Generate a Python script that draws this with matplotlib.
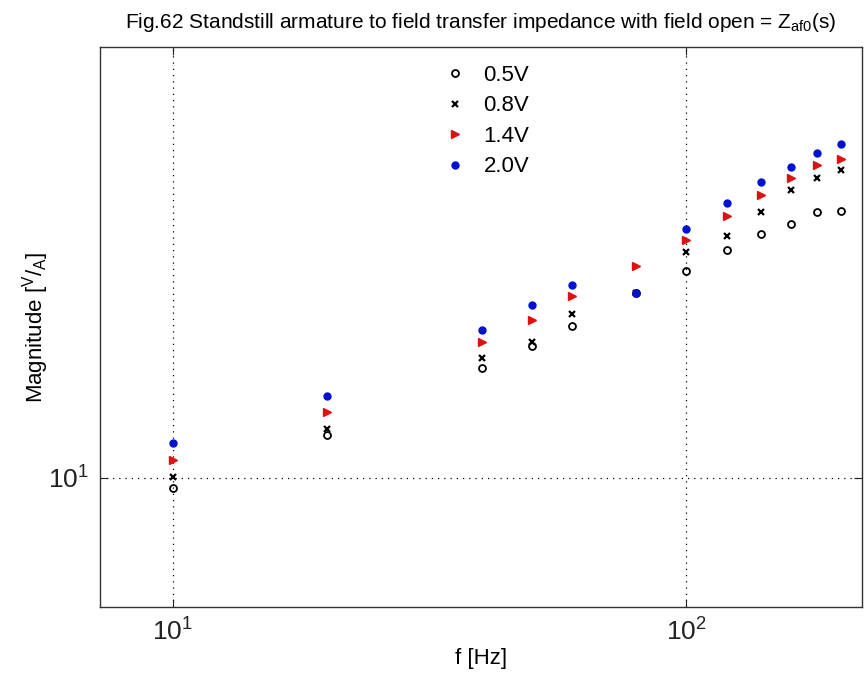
import matplotlib
matplotlib.use("Agg")
import matplotlib.pyplot as plt
from matplotlib.ticker import FixedLocator, NullLocator, LogFormatterMathtext

plt.rcParams['font.family'] = ['Liberation Sans', 'DejaVu Sans']
plt.rcParams['mathtext.fontset'] = 'custom'
plt.rcParams['mathtext.rm'] = 'Liberation Sans'
plt.rcParams['mathtext.it'] = 'Liberation Sans'

freq = [10, 20, 40, 50, 60, 80, 100, 120, 140, 160, 180, 200]
v05 = [9.61, 11.85, 15.45, 16.86, 18.25, 20.79, 22.69, 24.64, 26.26, 27.32, 28.64, 28.76]
v08 = [10.04, 12.14, 16.08, 17.13, 19.13, 20.79, 24.45, 26.05, 28.64, 31.25, 32.77, 33.82]
v14 = [10.74, 12.98, 17.13, 18.68, 20.54, 23.14, 25.64, 28.19, 30.64, 32.77, 34.49, 35.33]
v20 = [11.48, 13.83, 17.96, 19.83, 21.46, 20.79, 26.78, 29.69, 32.26, 34.22, 36.17, 37.49]
labels = ['0.5V', '0.8V', '1.4V', '2.0V']

fig = plt.figure(figsize=(8.64, 6.77), dpi=100)
ax = fig.add_axes([100/864, 70/677, 762/864, 560/677])

ax.plot(freq, v05, linestyle='none', marker='o', markersize=5, markerfacecolor='none',
        markeredgecolor='black', markeredgewidth=1.3, label=labels[0])
ax.plot(freq, v08, linestyle='none', marker='x', markersize=4.5, color='black',
        markeredgewidth=1.6, label=labels[1])
ax.plot(freq, v14, linestyle='none', marker='>', markersize=6, color='#e01010',
        label=labels[2])
ax.plot(freq, v20, linestyle='none', marker='o', markersize=5, color='#0010d0',
        label=labels[3])

ax.set_xscale('log')
ax.set_yscale('log')
ax.set_xlim(7.21, 220)
ax.set_ylim(6.0, 55.0)

ax.xaxis.set_major_locator(FixedLocator([10, 100]))
ax.yaxis.set_major_locator(FixedLocator([10]))
ax.xaxis.set_minor_locator(NullLocator())
ax.yaxis.set_minor_locator(NullLocator())
ax.xaxis.set_major_formatter(LogFormatterMathtext())
ax.yaxis.set_major_formatter(LogFormatterMathtext())

ax.grid(True, which='major', linestyle=(0, (1, 4)), color='black', linewidth=0.9)
ax.tick_params(direction='in', top=True, right=True, length=6, labelsize=19,
               colors='#222222', pad=8)
for s in ax.spines.values():
    s.set_color('#333333')
    s.set_linewidth(1.0)

ax.set_xlabel('f [Hz]', fontsize=16, labelpad=2)
ax.set_ylabel(r'Magnitude [$^{\mathrm{V}}$/$_{\mathrm{A}}$]', fontsize=16, labelpad=-2)
ax.set_title(r'Fig.62 Standstill armature to field transfer impedance with field open = Z$_{\mathrm{af0}}$(s)',
             fontsize=15, pad=14)

ax.legend(loc='upper center', frameon=False, fontsize=16, handletextpad=0.3,
          labelspacing=0.43, bbox_to_anchor=(0.5, 1.0), borderaxespad=0.4)

fig.savefig('out.png', dpi=100)
